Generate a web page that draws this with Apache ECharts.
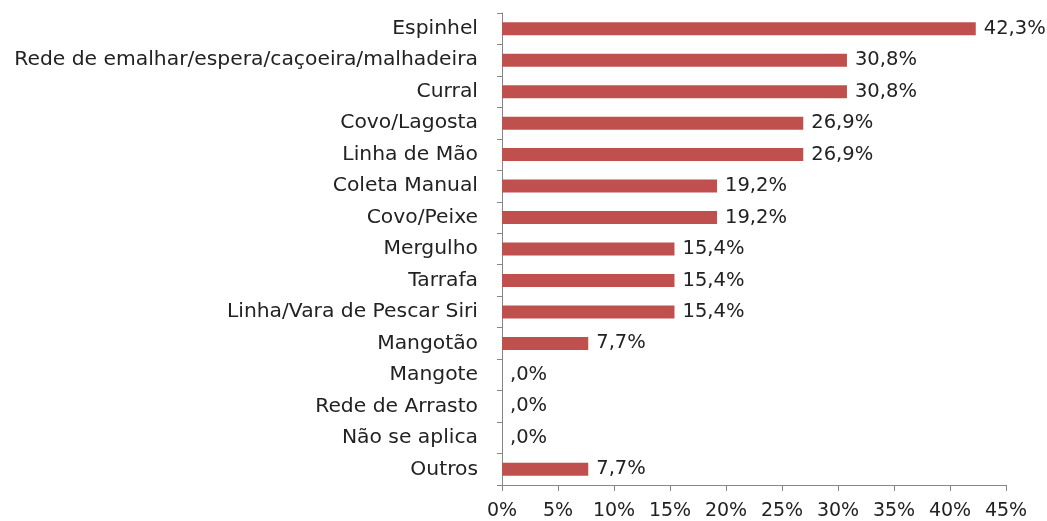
<!DOCTYPE html>
<html><head><meta charset="utf-8">
<script src="https://cdn.jsdelivr.net/npm/echarts@6/dist/echarts.min.js"></script>
<style>html,body{margin:0;padding:0;background:#fff}#c{width:1047px;height:521px}</style>
</head><body><div id="c"></div>
<script>
const categories = ["Espinhel","Rede de emalhar/espera/caçoeira/malhadeira","Curral","Covo/Lagosta","Linha de Mão","Coleta Manual","Covo/Peixe","Mergulho","Tarrafa","Linha/Vara de Pescar Siri","Mangotão","Mangote","Rede de Arrasto","Não se aplica","Outros"];
const values = [42.3,30.8,30.8,26.9,26.9,19.2,19.2,15.4,15.4,15.4,7.7,0,0,0,7.7];
const xTicks = [0,5,10,15,20,25,30,35,40,45];

const fmt = v => { let s = v.toFixed(1).replace('.', ','); if (s.startsWith('0,')) s = s.slice(1); return s + '%'; };
const font = 'DejaVu Sans';
const chart = echarts.init(document.getElementById('c'));
chart.setOption({
  animation: false,
  grid: {left: 502, top: 13, right: 41, bottom: 35, containLabel: false},
  xAxis: {
    type: 'value', min: xTicks[0], max: xTicks[xTicks.length - 1], interval: xTicks[1] - xTicks[0],
    axisLine: {show: true, lineStyle: {color: '#868686'}},
    axisTick: {show: true, length: 6, lineStyle: {color: '#868686'}},
    splitLine: {show: false},
    axisLabel: {margin: 17, fontFamily: font, fontSize: 19, color: '#222', formatter: v => v + '%'}
  },
  yAxis: {
    type: 'category', data: categories.slice().reverse(),
    axisLine: {show: true, lineStyle: {color: '#868686'}},
    axisTick: {show: true, length: 5, lineStyle: {color: '#868686'}},
    axisLabel: {margin: 24, fontFamily: font, fontSize: 20.3, color: '#222'}
  },
  series: [{
    type: 'bar', data: values.slice().reverse(), barWidth: 13,
    itemStyle: {color: '#C0504D'},
    label: {show: true, position: 'right', distance: 8, fontFamily: font, fontSize: 19.5, color: '#222',
      formatter: p => fmt(p.value)}
  }]
});
</script></body></html>
